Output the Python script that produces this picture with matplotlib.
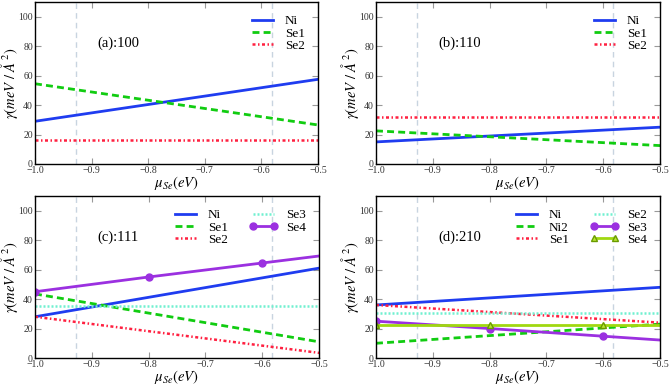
import numpy as np
import matplotlib
matplotlib.use('Agg')
import matplotlib.pyplot as plt

plt.rcParams['font.family'] = ['Liberation Serif', 'DejaVu Serif']
plt.rcParams['mathtext.fontset'] = 'stix'

# chemical potential grid (eV)
mu = [-1.0, -0.8, -0.6, -0.4]
vlines = [-0.927, -0.582]

# (a) 100
a_ni = [29.0, 40.4, 51.8, 63.2]
a_se1 = [54.5, 43.3, 32.1, 20.9]
a_se2 = [16.0, 16.0, 16.0, 16.0]

# (b) 110
b_ni = [15.0, 19.0, 23.0, 27.0]
b_se1 = [22.5, 18.5, 14.5, 10.5]
b_se2 = [32.0, 32.0, 32.0, 32.0]

# (c) 111
c_ni = [28.0, 41.2, 54.4, 67.6]
c_se1 = [43.5, 30.5, 17.5, 4.5]
c_se2 = [28.0, 18.2, 8.4, -1.4]
c_se3 = [35.5, 35.5, 35.5, 35.5]
c_se4 = [45.0, 55.0, 64.5, 74.0]

# (d) 210
d_ni = [36.0, 40.8, 45.6, 50.4]
d_ni2 = [10.0, 15.2, 20.4, 25.6]
d_se1 = [36.0, 31.2, 26.4, 21.6]
d_se2 = [30.5, 30.5, 30.5, 30.5]
d_se3 = [25.0, 20.0, 14.8, 9.6]
d_se4 = [22.5, 22.5, 22.5, 22.5]

blue = dict(color='#1f3cf0', lw=2.0, ls='-')
green = dict(color='#11cc11', lw=2.0, ls=(0, (2.5, 1.5)))
red = dict(color='#ff2040', lw=1.8, ls=(0, (1.2, 1.0, 0.6, 1.0)))
cyan = dict(color='#70f0d0', lw=1.8, ls=(0, (0.8, 0.8)))
purple = dict(color='#9b30e0', lw=2.0, ls='-', marker='o', ms=5)
ygreen = dict(color='#a0d810', lw=2.0, ls='-', marker='^', ms=5,
              mec='#6a9a00', mfc='#b8e830')

fig = plt.figure(figsize=(6.7, 3.85), dpi=100)
W, H = 670, 385
boxes = [(35, 2, 318, 164), (376, 2, 660, 164),
         (35, 196, 319, 358), (376, 196, 660, 358)]
axes = [fig.add_axes([l / W, 1 - b / H, (r - l) / W, (b - t) / H]) for l, t, r, b in boxes]

panels = [
    ('(a):100', [('Ni', a_ni, blue), ('Se1', a_se1, green), ('Se2', a_se2, red)], 1),
    ('(b):110', [('Ni', b_ni, blue), ('Se1', b_se1, green), ('Se2', b_se2, red)], 1),
    ('(c):111', [('Ni', c_ni, blue), ('Se1', c_se1, green), ('Se2', c_se2, red),
                 ('Se3', c_se3, cyan), ('Se4', c_se4, purple)], 2),
    ('(d):210', [('Ni', d_ni, blue), ('Ni2', d_ni2, green), ('Se1', d_se1, red),
                 ('Se2', d_se2, cyan), ('Se3', d_se3, purple), ('Se4', d_se4, ygreen)], 2),
]

for ax, (title, series, ncol) in zip(axes, panels):
    for v in vlines:
        ax.axvline(v, color='#c8d4e0', lw=1.0, ls=(0, (4, 3)), zorder=0)
    for name, ys, st in series:
        ax.plot(mu, ys, label=name, **st)
    ax.set_xlim(-1.0, -0.5)
    ax.set_ylim(0, 110)
    ax.set_xticks([-1.0, -0.9, -0.8, -0.7, -0.6, -0.5])
    ax.set_yticks([0, 20, 40, 60, 80, 100])
    ax.tick_params(direction='in', top=True, right=True, length=4,
                   color='#999999', labelsize=7, labelcolor='#333333', pad=1.5)
    for s in ax.spines.values():
        s.set_linewidth(1.0)
    ax.set_xlabel(r'$\mu_{Se}(eV)$', fontsize=10.5, labelpad=-1)
    ax.set_ylabel(r'$\gamma(meV\ /\ \AA^2)$', fontsize=10.5, labelpad=-1.5)
    ax.text(-0.89, 82, title, fontsize=10.5, va='center')
    ax.legend(loc='upper right', ncol=ncol, frameon=False, fontsize=9.5,
              handlelength=2.2, labelspacing=0.0, columnspacing=1.6,
              numpoints=2, borderaxespad=0.6, handletextpad=0.6)

fig.savefig('out.png', dpi=100)
